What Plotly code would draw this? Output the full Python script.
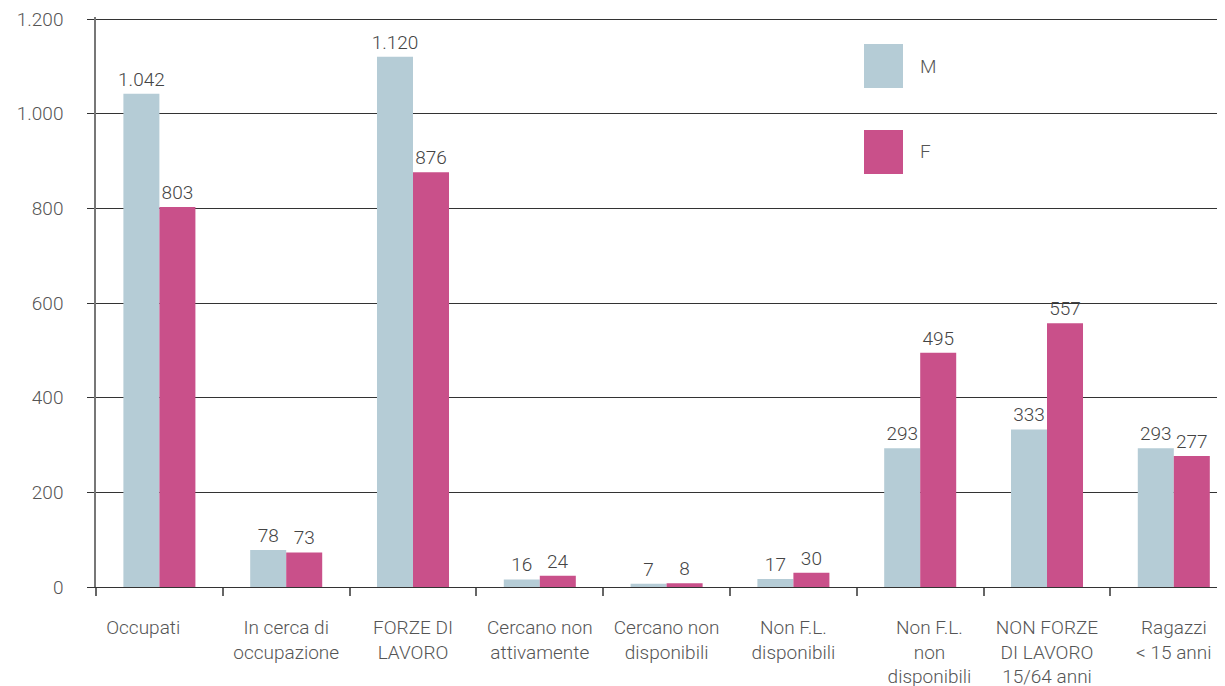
import plotly.graph_objects as go

categories = [
    "Occupati\u00a0\u00a0\u00a0\u00a0\u00a0\u00a0\u00a0",
    "In cerca di<br>occupazione",
    "FORZE DI<br>LAVORO",
    "Cercano non<br>attivamente",
    "Cercano non<br>disponibili",
    "Non F.L.<br>disponibili",
    "\u00a0\u00a0\u00a0\u00a0Non F.L.<br>\u00a0\u00a0\u00a0\u00a0non<br>\u00a0\u00a0\u00a0\u00a0disponibili",
    "NON FORZE<br>DI LAVORO<br>15/64 anni",
    "Ragazzi<br>< 15 anni",
]
maschi = [1042, 78, 1120, 16, 7, 17, 293, 333, 293]
femmine = [803, 73, 876, 24, 8, 30, 495, 557, 277]
series_names = ["M", "F"]
colors = ["#b5ccd6", "#c9508a"]
y_ticks = [0, 200, 400, 600, 800, 1000, 1200]

FONT = "Roboto"
OFF = 8  # default page body margin
W, H = 1225 - OFF, 686 - OFF
ML, MR, MT, MB = 96 - OFF, 0, 9, 99
Y_MAX = 1200 * 570 / 568  # keeps the 1.200 gridline just inside the plot

fig = go.Figure()
for name, vals, col in zip(series_names, [maschi, femmine], colors):
    fig.add_trace(go.Bar(
        x=categories, y=vals, name=name,
        marker=dict(color=col, line=dict(width=0)),
        text=vals, texttemplate="%{y:,.0f}", textposition="outside",
        constraintext="none",
        textfont=dict(family=FONT, size=19, color="#444444", weight=300),
        cliponaxis=False, showlegend=False,
    ))

# legend swatches (paper coordinates), positions given in page pixels
pw = W - ML - MR
ph = H - MT - MB
def px_x(px):
    return (px - OFF - ML) / pw
def px_y(py):
    return (H - MB - (py - OFF)) / ph

legend_rows = [(44, 88), (130, 174)]
for (y0, y1), col, name in zip(legend_rows, colors, series_names):
    fig.add_shape(type="rect", xref="paper", yref="paper",
                  x0=px_x(864), x1=px_x(903), y0=px_y(y1), y1=px_y(y0),
                  fillcolor=col, line=dict(width=0), layer="above")
    fig.add_annotation(xref="paper", yref="paper", x=px_x(918), y=px_y((y0 + y1) / 2),
                       text=name, showarrow=False, xanchor="left", yanchor="middle",
                       font=dict(family=FONT, size=19, color="#555555", weight=300))

fig.update_layout(
    width=W, height=H,
    margin=dict(l=ML, r=MR, t=MT, b=MB, pad=0, autoexpand=False),
    plot_bgcolor="white", paper_bgcolor="white",
    barmode="group", bargap=0.432, bargroupgap=0,
    separators=",.",
    font=dict(family=FONT, size=19, color="#555555", weight=300),
    xaxis=dict(
        type="category",
        range=[-0.5, -0.5 + pw / 126.8],
        showline=True, linecolor="#333333", linewidth=1,
        ticks="outside", tickson="boundaries", ticklen=8, tickcolor="#666666", tickwidth=1.5,
        ticklabelstandoff=23, ticklabeloverflow="allow",
        tickfont=dict(family=FONT, size=19, color="#555555", weight=300),
        showgrid=False, zeroline=False, automargin=False,
    ),
    yaxis=dict(
        range=[0, Y_MAX], tickvals=y_ticks, tickformat=",.0f",
        showgrid=True, gridcolor="#333333", gridwidth=1,
        showline=True, linecolor="#777777", linewidth=1.5,
        ticks="outside", ticklen=7, tickcolor="#333333", tickwidth=1,
        ticklabelstandoff=20, ticklabeloverflow="allow",
        tickfont=dict(family=FONT, size=19, color="#555555", weight=300),
        zeroline=False, automargin=False,
    ),
)

fig.write_html("out.html")
